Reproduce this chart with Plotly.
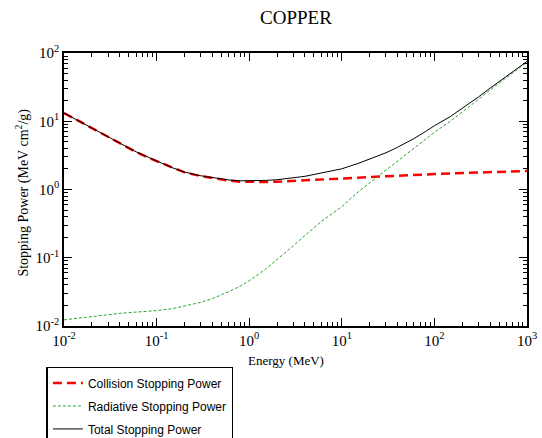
import plotly.graph_objects as go

energy = [0.01, 0.015, 0.02, 0.03, 0.04, 0.05, 0.06, 0.08, 0.1, 0.15, 0.2, 0.3, 0.4, 0.5, 0.6, 0.8,
          1, 1.5, 2, 3, 4, 5, 6, 8, 10, 15, 20, 30, 40, 50, 60, 80, 100, 150, 200, 300, 400, 500,
          600, 800, 1000]
collision = [13.2, 9.75, 7.85, 5.85, 4.75, 4.05, 3.55, 2.95, 2.60, 2.05, 1.78, 1.57, 1.46, 1.40, 1.35, 1.30,
             1.29, 1.29, 1.30, 1.33, 1.35, 1.38, 1.40, 1.43, 1.45, 1.49, 1.52, 1.55, 1.58, 1.60, 1.62, 1.66,
             1.69, 1.72, 1.74, 1.77, 1.79, 1.81, 1.82, 1.85, 1.87]
radiative = [0.0123, 0.0132, 0.0139, 0.0147, 0.0153, 0.0157, 0.0160, 0.0164, 0.0168, 0.0180, 0.0195,
             0.0222, 0.0252, 0.0285, 0.0318, 0.0385, 0.0460, 0.068, 0.094, 0.150, 0.212, 0.275, 0.34,
             0.45, 0.56, 0.92, 1.25, 1.90, 2.58, 3.25, 3.95, 5.40, 6.90, 10.1, 13.6, 21.0, 28.8, 36.0,
             43.5, 58.5, 73.5]
total = [13.21, 9.76, 7.86, 5.86, 4.77, 4.07, 3.57, 2.97, 2.62, 2.07, 1.80, 1.59, 1.49, 1.43, 1.38, 1.34,
         1.34, 1.36, 1.39, 1.48, 1.56, 1.66, 1.74, 1.88, 2.01, 2.41, 2.77, 3.45, 4.16, 4.85, 5.57, 7.06,
         8.59, 11.82, 15.34, 22.77, 30.59, 37.81, 45.32, 60.35, 75.37]

x_ticks = [0.01, 0.1, 1, 10, 100, 1000]
x_labels = ["10<sup>-2</sup>", "10<sup>-1</sup>", "10<sup>0</sup>", "10<sup>1</sup>", "10<sup>2</sup>", "10<sup>3</sup>"]
y_ticks = [0.01, 0.1, 1, 10, 100]
y_labels = ["10<sup>-2</sup>", "10<sup>-1</sup>", "10<sup>0</sup>", "10<sup>1</sup>", "10<sup>2</sup>"]

x_minor = [m * d for d in [0.01, 0.1, 1, 10, 100] for m in range(2, 10)]
y_minor = [m * d for d in [0.01, 0.1, 1, 10] for m in range(2, 10)]

SERIF = "Liberation Serif, Times New Roman, serif"
SANS = "Liberation Sans, Arial, sans-serif"

fig = go.Figure()
fig.add_trace(go.Scatter(x=energy, y=collision, mode="lines", name="Collision Stopping Power",
                         line=dict(color="#ff0000", width=2.5, dash="9px,5px"), legendgroup="a"))
fig.add_trace(go.Scatter(x=energy, y=radiative, mode="lines", name="Radiative Stopping Power",
                         line=dict(color="#2aa52a", width=1, dash="3px,2px"), legendgroup="b"))
fig.add_trace(go.Scatter(x=energy, y=total, mode="lines", name="Total Stopping Power",
                         line=dict(color="#000000", width=1), legendgroup="c"))

axis_common = dict(
    showgrid=False, zeroline=False, showline=True, linecolor="black", linewidth=1.5,
    mirror="ticks", ticks="inside", ticklen=8, tickwidth=1, tickcolor="black",
    tickfont=dict(family=SERIF, size=15, color="black"),
)

fig.update_xaxes(type="log", range=[-2, 3], tickmode="array", tickvals=x_ticks, ticktext=x_labels,
                 ticklabeloverflow="allow",
                 minor=dict(tickmode="array", tickvals=x_minor, ticks="inside", ticklen=4,
                            tickcolor="black", tickwidth=1),
                 **axis_common)
fig.update_yaxes(type="log", range=[-2, 2], tickmode="array", tickvals=y_ticks, ticktext=y_labels,
                 minor=dict(tickmode="array", tickvals=y_minor, ticks="inside", ticklen=4,
                            tickcolor="black", tickwidth=1),
                 **axis_common)

fig.update_layout(
    width=542, height=438,
    margin=dict(l=64, r=15, t=53, b=112, autoexpand=False),
    paper_bgcolor="white", plot_bgcolor="white",
    title=dict(text="COPPER", x=0.546, xanchor="center", y=0.961, yanchor="middle",
               font=dict(family=SERIF, size=19, color="black")),
    showlegend=True,
    legend=dict(x=-0.038, y=-0.15, xanchor="left", yanchor="top",
                bordercolor="black", borderwidth=1.5, bgcolor="white",
                font=dict(family=SANS, size=12, color="black"),
                tracegroupgap=4, traceorder="grouped"),
    annotations=[
        dict(text="Energy (MeV)", xref="paper", yref="paper", x=0.48, y=-0.128,
             xanchor="center", yanchor="middle", showarrow=False,
             font=dict(family=SERIF, size=13, color="black")),
        dict(text="Stopping Power (MeV cm<sup>2</sup>/g)", xref="paper", yref="paper",
             x=-0.09, y=0.49, xanchor="center", yanchor="middle", textangle=-90, showarrow=False,
             font=dict(family=SERIF, size=14, color="black")),
    ],
)

fig.write_html("out.html", config={"displayModeBar": False},
               post_script="document.body.style.margin='0';")
